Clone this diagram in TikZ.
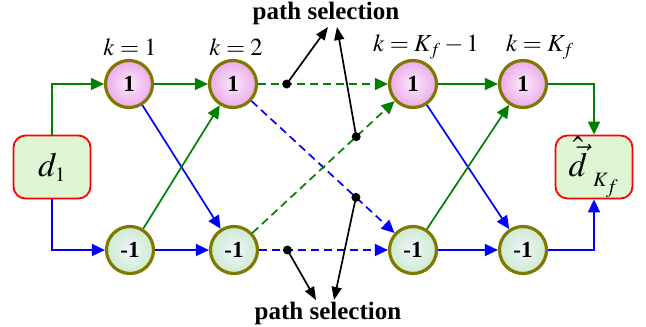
\documentclass[tikz,border=0pt]{standalone}
\usepackage{mathptmx}
\usepackage{fontspec}
\setmainfont{Liberation Serif}
\usetikzlibrary{arrows.meta}
\definecolor{gline}{RGB}{0,128,0}
\definecolor{bline}{RGB}{0,0,255}
\definecolor{olivering}{RGB}{128,120,0}
\definecolor{pinkout}{RGB}{236,170,236}
\definecolor{pinkin}{RGB}{250,235,250}
\definecolor{mintout}{RGB}{205,235,205}
\definecolor{mintin}{RGB}{240,245,252}
\definecolor{boxfill}{RGB}{222,246,212}
\begin{document}
\begin{tikzpicture}[x=1pt,y=-1pt,
  state/.style={circle,draw=olivering,line width=3.2pt,minimum size=47pt,inner sep=0pt,
    font=\fontsize{23}{25}\selectfont\bfseries},
  topstate/.style={state,inner color=pinkin,outer color=pinkout},
  botstate/.style={state,inner color=mintin,outer color=mintout},
  databox/.style={draw=red,line width=1.8pt,rounded corners=12pt,fill=boxfill,
    minimum width=77pt,minimum height=63pt,inner sep=0pt},
  garrow/.style={draw=gline,line width=1.7pt,-{Triangle[length=13pt,width=12pt]}},
  barrow/.style={draw=bline,line width=1.7pt,-{Triangle[length=13pt,width=12pt]}},
  selarrow/.style={draw=black,line width=1.7pt,-{Triangle[length=13pt,width=10pt]}},
  seldot/.style={circle,fill=black,inner sep=0pt,minimum size=9pt},
  klabel/.style={font=\fontsize{24.5}{26}\selectfont},
  sellabel/.style={font=\fontsize{25}{27}\selectfont\bfseries},
  dashline/.style={dash pattern=on 8pt off 5pt}
]
\useasboundingbox (0,0) rectangle (646,327);

\node[topstate] (t1) at (129,84) {1};
\node[topstate] (t2) at (233,84) {1};
\node[topstate] (t3) at (413,84) {1};
\node[topstate] (t4) at (523,84) {1};
\node[botstate] (b1) at (130,250) {-1};
\node[botstate] (b2) at (234,250) {-1};
\node[botstate] (b3) at (413,250) {-1};
\node[botstate] (b4) at (523,250) {-1};

\node[databox] (d1) at (52,167) {\fontsize{34}{36}\selectfont$d_{\scriptscriptstyle 1}$};
\node[databox] (out) at (594,167) {\fontsize{34}{36}\selectfont$\hat{\vec{d}}_{\;{}_{K_f}}$};

\node[klabel] (k1) at (130,47) {$k=1$};
\node[klabel] (k2) at (236,47) {$k=2$};
\node[klabel] (k3) at (426,47) {$k=K_f-1$};
\node[klabel] (k4) at (540,47) {$k=K_f$};

\draw[garrow] (d1.north) |- (t1);
\draw[barrow] (d1.south) |- (b1);
\draw[garrow] (t1) -- (t2);
\draw[barrow] (t1) -- (b2);
\draw[garrow] (b1) -- (t2);
\draw[barrow] (b1) -- (b2);

\draw[garrow,dashline] (t2) -- coordinate[pos=0.22] (p1) (t3);
\draw[barrow,dashline] (t2) -- coordinate[pos=0.73] (p3) (b3);
\draw[garrow,dashline] (b2) -- coordinate[pos=0.73] (p2) (t3);
\draw[barrow,dashline] (b2) -- coordinate[pos=0.22] (p4) (b3);

\draw[garrow] (t3) -- (t4);
\draw[barrow] (t3) -- (b4);
\draw[garrow] (b3) -- (t4);
\draw[barrow] (b3) -- (b4);
\draw[garrow] (t4) -| (out.north);
\draw[barrow] (b4) -| (out.south);

\node[seldot] (s1) at (p1) {};
\node[seldot] (s2) at (p2) {};
\node[seldot] (s3) at (p3) {};
\node[seldot] (s4) at (p4) {};

\node[sellabel] (top) at (326,13) {path selection};
\node[sellabel] (bot) at (328,313) {path selection};
\coordinate (a1) at (328,27);
\coordinate (a2) at (337,27);
\coordinate (a3) at (316,300);
\coordinate (a4) at (334,300);
\draw[selarrow] (s1.center) -- (a1);
\draw[selarrow] (s2.center) -- (a2);
\draw[selarrow] (s4.center) -- (a3);
\draw[selarrow] (s3.center) -- (a4);
\end{tikzpicture}
\end{document}
